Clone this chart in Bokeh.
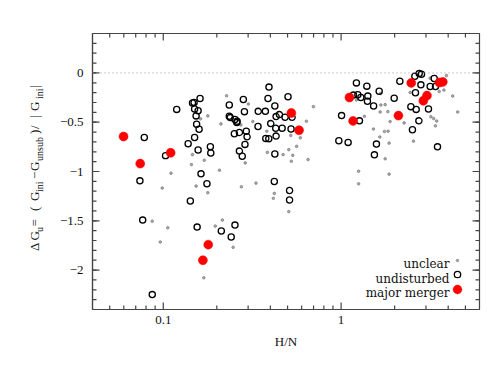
import math
from bokeh.plotting import figure
from bokeh.layouts import row
from bokeh.models import (FixedTicker, CustomJSTickFormatter, Span, Label, Legend,
                          LegendItem, Range1d)
from bokeh.core.properties import value
from bokeh.embed import file_html
from bokeh.resources import INLINE

# ---------------- data (H/N, Delta G_u) ----------------
unclear_hn = [0.1105, 0.0987, 0.0867, 0.106, 0.0962, 0.144, 0.162, 0.178, 0.146, 0.170,
              0.207, 0.153, 0.178, 0.227, 0.211, 0.301, 0.273, 0.319, 0.289, 0.275,
              0.332, 0.382, 0.385, 0.472, 0.508, 0.421, 0.416, 0.508, 0.196, 0.215,
              0.247, 0.169, 0.699, 0.638, 0.590, 0.562, 0.521, 0.535, 0.525, 0.652,
              1.254, 1.254, 1.352, 1.669, 1.769, 1.673, 1.658, 1.520, 1.651, 1.753,
              1.769, 1.219, 1.831, 1.862, 1.862, 1.838, 1.886, 2.262, 2.445, 3.168,
              3.913, 3.561, 3.784, 4.241, 4.525, 3.197, 3.315, 3.446, 2.552, 3.392]
unclear_dg = [-1.017, -1.168, -1.504, -1.571, -1.715, -0.930, -0.466, -0.436, -0.829, -0.886,
              -0.987, -1.148, -1.215, -0.232, -0.517, -0.315, -0.527, -0.493, -0.913, -1.155,
              -1.118, -0.591, -0.806, -0.829, -0.778, -1.222, -1.272, -1.407, -1.554, -1.493,
              -1.769, -2.078, -0.342, -0.490, -0.658, -0.745, -0.634, -0.836, -0.896, -0.879,
              -0.997, -1.125, -0.440, -0.208, -0.322, -0.325, -0.396, -0.569, -0.650, -0.594,
              -0.871, -0.275, -0.393, -0.712, -1.027, -0.591, -0.493, -0.507, -0.198, -0.053,
              -0.027, -0.188, -0.174, -0.235, -0.396, -0.445, -0.463, -0.488, -0.692, -0.537]

undist_hn = [0.119, 0.0782, 0.103, 0.138, 0.0739, 0.142, 0.0766, 0.0867, 0.161, 0.149,
             0.146, 0.150, 0.157, 0.153, 0.154, 0.159, 0.150, 0.157, 0.184, 0.185,
             0.163, 0.176, 0.155, 0.212, 0.253, 0.241, 0.235, 0.282, 0.286, 0.235,
             0.238, 0.253, 0.260, 0.259, 0.251, 0.268, 0.293, 0.296, 0.288, 0.268,
             0.278, 0.342, 0.375, 0.341, 0.393, 0.388, 0.424, 0.402, 0.431, 0.450,
             0.484, 0.466, 0.429, 0.431, 0.377, 0.392, 0.424, 0.421, 0.503, 0.523,
             0.530, 0.513, 0.513, 1.219, 1.395, 1.637, 1.173, 1.242, 1.291, 1.413,
             1.406, 1.523, 1.006, 1.268, 0.971, 1.095, 1.580, 1.539, 2.139, 2.598,
             2.748, 2.831, 3.338, 2.809, 3.168, 3.394, 2.619, 1.988, 2.467, 2.643,
             3.099, 2.737, 2.518, 3.483]
undist_dg = [-0.370, -0.655, -0.839, -0.718, -1.095, -1.299, -1.493, -2.249, -0.259, -0.299,
             -0.305, -0.366, -0.383, -0.436, -0.521, -0.571, -0.655, -0.782, -0.748, -0.813,
             -1.024, -1.125, -1.564, -1.604, -1.544, -1.665, -0.325, -0.269, -0.393, -0.440,
             -0.453, -0.473, -0.490, -0.504, -0.617, -0.604, -0.591, -0.648, -0.725, -0.793,
             -0.846, -0.390, -0.390, -0.544, -0.144, -0.259, -0.335, -0.514, -0.443, -0.423,
             -0.450, -0.561, -0.561, -0.641, -0.665, -0.668, -0.823, -1.101, -0.242, -0.569,
             -0.450, -1.193, -1.289, -0.101, -0.134, -0.186, -0.225, -0.222, -0.249, -0.235,
             -0.287, -0.335, -0.433, -0.486, -0.688, -0.705, -0.722, -0.831, -0.084, -0.033,
             -0.007, -0.013, -0.057, -0.121, -0.138, -0.138, -0.201, -0.257, -0.342, -0.370,
             -0.366, -0.486, -0.577, -0.750]

major_hn = [0.0598, 0.0742, 0.110, 0.179, 0.167, 0.525, 0.580, 1.114, 1.168, 2.10,
            2.48, 3.04, 2.90, 3.57, 3.73]
major_dg = [-0.645, -0.920, -0.810, -1.742, -1.900, -0.406, -0.581, -0.249, -0.487, -0.433,
            -0.101, -0.230, -0.282, -0.098, -0.091]

x_major_ticks = [0.1, 1]
x_minor_ticks = [0.05, 0.06, 0.07, 0.08, 0.09, 0.2, 0.3, 0.4, 0.5, 0.6, 0.7, 0.8, 0.9,
                 2, 3, 4, 5]
y_major_ticks = [-2, -1.5, -1, -0.5, 0]
y_minor_ticks = [round(-2.3 + 0.1 * i, 1) for i in range(27)]
legend_labels = ["unclear", "undisturbed", "major merger"]

X_LO, X_HI = 0.04, 6
Y_LO, Y_HI = -2.4, 0.4
AX = "#444444"
SERIF = "Liberation Serif"
H = 371
FRAME_W, FRAME_H = 387, 276
FRAME_BOTTOM = 309  # page y of the plot frame's bottom edge

# ---------------- main plot ----------------
p = figure(width=433, height=H, x_axis_type="log",
           x_range=Range1d(X_LO, X_HI), y_range=Range1d(Y_LO, Y_HI),
           output_backend="svg", toolbar_location=None,
           min_border_left=42, min_border_right=4, min_border_top=33, min_border_bottom=62,
           x_axis_label="H/N")
p.grid.visible = False
p.outline_line_color = AX
p.outline_line_width = 1.2
p.background_fill_color = "white"
p.border_fill_color = "white"


def no_ticks(ax):
    ax.major_tick_in = 0
    ax.major_tick_out = 0
    ax.minor_tick_in = 0
    ax.minor_tick_out = 0
    ax.axis_line_color = AX
    ax.axis_line_width = 1.2
    ax.major_label_text_font = SERIF
    ax.major_label_text_font_size = "13px"
    ax.major_label_text_color = "#111111"


xa = p.xaxis[0]
xa.ticker = FixedTicker(ticks=x_major_ticks, minor_ticks=x_minor_ticks)
xa.formatter = CustomJSTickFormatter(code="return String(tick);")
no_ticks(xa)
xa.major_label_standoff = 6
xa.axis_label_standoff = 7
xa.axis_label_text_font = SERIF
xa.axis_label_text_font_size = "13px"
xa.axis_label_text_font_style = "normal"
xa.axis_label_text_color = "#111111"

ya = p.yaxis[0]
ya.ticker = FixedTicker(ticks=y_major_ticks, minor_ticks=y_minor_ticks)
ya.formatter = CustomJSTickFormatter(code="return String(tick).replace('-', '\u2212');")
no_ticks(ya)
ya.major_label_standoff = 9

# inward tick marks on all four frame edges, as short segments
y_per_px = (Y_HI - Y_LO) / FRAME_H
dec_per_px = math.log10(X_HI / X_LO) / FRAME_W
for ticks, ln in ((x_major_ticks, 7), (x_minor_ticks, 4)):
    n = len(ticks)
    dy = ln * y_per_px
    p.segment(x0=ticks, x1=ticks, y0=[Y_LO] * n, y1=[Y_LO + dy] * n,
              line_color=AX, line_width=1.2)
    p.segment(x0=ticks, x1=ticks, y0=[Y_HI] * n, y1=[Y_HI - dy] * n,
              line_color=AX, line_width=1.2)
for ticks, ln in ((y_major_ticks, 7), (y_minor_ticks, 4)):
    n = len(ticks)
    f = 10 ** (ln * dec_per_px)
    p.segment(x0=[X_LO] * n, x1=[X_LO * f] * n, y0=ticks, y1=ticks,
              line_color=AX, line_width=1.2)
    p.segment(x0=[X_HI] * n, x1=[X_HI / f] * n, y0=ticks, y1=ticks,
              line_color=AX, line_width=1.2)

p.add_layout(Span(location=0, dimension="width", line_color="#999999",
                  line_dash="1 3", line_width=1))

r_unclear = p.scatter(unclear_hn, unclear_dg, marker="circle", size=2.6,
                      fill_color="#aaaaaa", line_color="#808080", line_width=0.8)
r_undist = p.scatter(undist_hn, undist_dg, marker="circle", size=6.2,
                     fill_color=None, line_color="black", line_width=1.3)
r_major = p.scatter(major_hn, major_dg, marker="circle", size=9,
                    fill_color="#ff0000", line_color="#ff0000", line_width=0.5)

# legend: glyph-only legends on the right, text labels to their left
leg_cx = 364.7
leg_y = [49, 34.7, 19.7]
leg_g = [6, 16, 22]
for rend, cy, g in zip([r_unclear, r_undist, r_major], leg_y, leg_g):
    lg = Legend(items=[LegendItem(label=value(" "), renderers=[rend])],
                location=(leg_cx - g / 2, cy - g / 2),
                glyph_width=g, glyph_height=g, label_width=1, label_height=g,
                label_standoff=0, padding=0, margin=0, spacing=0,
                label_text_font_size="4px", border_line_alpha=0,
                background_fill_alpha=0)
    p.add_layout(lg)

for txt, cy in zip(legend_labels, [45.5, 31, 16.5]):
    p.add_layout(Label(x=357, y=cy, x_units="screen", y_units="screen", text=txt,
                       text_align="right", text_baseline="alphabetic",
                       text_font="DejaVu Serif", text_font_size="12px",
                       text_color="#111111"))

# ---------------- y-axis title (separate narrow svg figure, frame aligned with p) ----------------
t = figure(width=50, height=H, x_range=Range1d(0, 50), y_range=Range1d(0, H),
           output_backend="svg", toolbar_location=None,
           x_axis_location=None, y_axis_location=None,
           min_border_left=0, min_border_right=0, min_border_top=0, min_border_bottom=0)
t.grid.visible = False
t.outline_line_color = None
t.background_fill_color = "white"
t.border_fill_color = "white"

MAIN_X, SUB_X = 34, 39
pieces = [("\u0394", 250.5, 0), ("G", 240, 0), ("u", 231.5, 1), ("=", 226, 0),
          ("(", 210.5, 0), ("G", 200.5, 0), ("ini", 191.5, 1), ("\u2212", 178.5, 0),
          ("G", 170.5, 0), ("unsub", 160.5, 1), (")", 133.5, 0), ("/", 128.5, 0),
          ("|", 117, 0), ("G", 110.5, 0), ("ini", 98.5, 1), ("|", 87.5, 0)]
for txt, py, sub in pieces:
    t.add_layout(Label(x=SUB_X if sub else MAIN_X, y=FRAME_BOTTOM - py, x_units="screen",
                       y_units="screen", text=txt, angle=math.pi / 2, text_align="left",
                       text_baseline="alphabetic", text_font=SERIF,
                       text_font_size="10px" if sub else "13px", text_color="#111111"))

layout = row(t, p)
open("out.html", "w").write(file_html(layout, INLINE))
